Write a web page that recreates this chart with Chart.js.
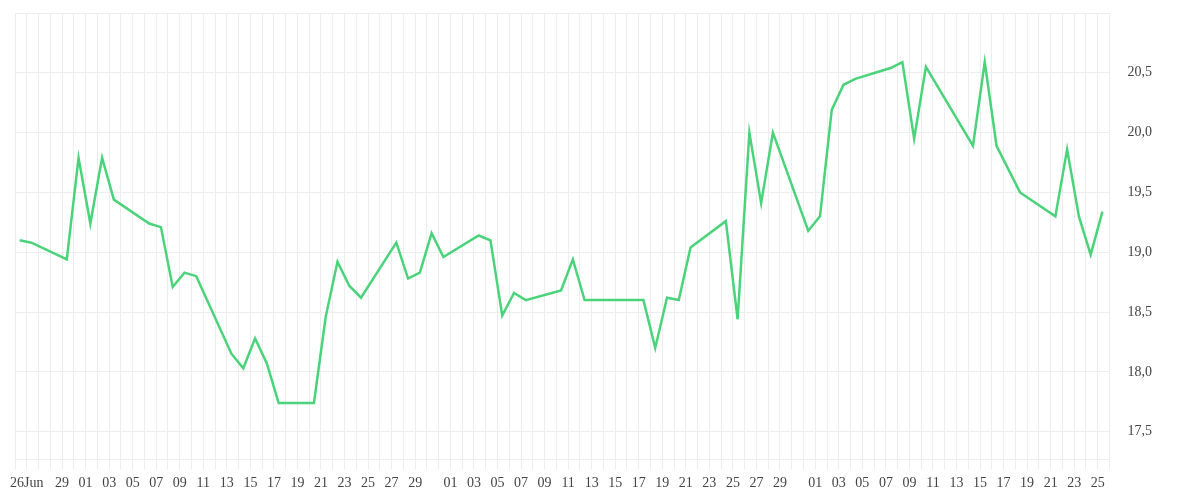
<!DOCTYPE html>
<html>
<head>
<meta charset="utf-8">
<script src="https://cdn.jsdelivr.net/npm/chart.js@4.4.0/dist/chart.umd.min.js"></script>
<style>
  html, body { margin: 0; padding: 0; background: #fff; }
  #wrap { width: 1200px; height: 500px; position: relative; }
</style>
</head>
<body>
<div id="wrap"><canvas id="chart"></canvas></div>
<script>
// axis starts at midnight of this day, one gridline per day
const startDate = '2023-06-25';
const axisDays = 93;
// readings are taken mid-morning, so each point sits a bit past its day line
const readingHour = 9.6;

const dates = [
  '2023-06-25', '2023-06-26', '2023-06-29', '2023-06-30', '2023-07-01', '2023-07-02', '2023-07-03',
  '2023-07-06', '2023-07-07', '2023-07-08', '2023-07-09', '2023-07-10', '2023-07-13', '2023-07-14',
  '2023-07-15', '2023-07-16', '2023-07-17', '2023-07-20', '2023-07-21', '2023-07-22', '2023-07-23',
  '2023-07-24', '2023-07-27', '2023-07-28', '2023-07-29', '2023-07-30', '2023-07-31', '2023-08-03',
  '2023-08-04', '2023-08-05', '2023-08-06', '2023-08-07', '2023-08-10', '2023-08-11', '2023-08-12',
  '2023-08-17', '2023-08-18', '2023-08-19', '2023-08-20', '2023-08-21', '2023-08-24', '2023-08-25',
  '2023-08-26', '2023-08-27', '2023-08-28', '2023-08-31', '2023-09-01', '2023-09-02', '2023-09-03',
  '2023-09-04', '2023-09-07', '2023-09-08', '2023-09-09', '2023-09-10', '2023-09-14', '2023-09-15',
  '2023-09-16', '2023-09-18', '2023-09-21', '2023-09-22', '2023-09-23', '2023-09-24', '2023-09-25'
];

const values = [
  19.10, 19.08, 18.94, 19.79, 19.24, 19.79, 19.44,
  19.24, 19.21, 18.71, 18.83, 18.80, 18.15, 18.03,
  18.28, 18.07, 17.74, 17.74, 18.46, 18.92, 18.72,
  18.62, 19.08, 18.78, 18.83, 19.16, 18.96, 19.14,
  19.10, 18.47, 18.66, 18.60, 18.68, 18.94, 18.60,
  18.60, 18.20, 18.62, 18.60, 19.04, 19.26, 18.44,
  20.00, 19.41, 20.00, 19.18, 19.30, 20.19, 20.40,
  20.45, 20.54, 20.59, 19.95, 20.55, 19.89, 20.59,
  19.89, 19.50, 19.30, 19.86, 19.30, 18.98, 19.34
];

// which day lines get a label (days counted from startDate)
const tickDays = [
  1, 4,
  6, 8, 10, 12, 14, 16, 18, 20, 22, 24, 26, 28, 30, 32, 34,
  37, 39, 41, 43, 45, 47, 49, 51, 53, 55, 57, 59, 61, 63, 65,
  68, 70, 72, 74, 76, 78, 80, 82, 84, 86, 88, 90, 92
];
const tickLabels = [
  '26Jun', '29',
  '01', '03', '05', '07', '09', '11', '13', '15', '17', '19', '21', '23', '25', '27', '29',
  '01', '03', '05', '07', '09', '11', '13', '15', '17', '19', '21', '23', '25', '27', '29',
  '01', '03', '05', '07', '09', '11', '13', '15', '17', '19', '21', '23', '25'
];

const DAY_MS = 86400000;
const t0 = Date.parse(startDate);
const points = dates.map((d, i) => ({
  x: (Date.parse(d) - t0) / DAY_MS + readingHour / 24,
  y: values[i]
}));

const gridColor = '#ededed';
const tickFont = { family: '"Liberation Serif", "Times New Roman", serif', size: 14 };

new Chart(document.getElementById('chart'), {
  type: 'line',
  data: {
    datasets: [{
      data: points,
      borderColor: '#4bd37b',
      borderWidth: 2.5,
      pointRadius: 0,
      tension: 0,
      fill: false
    }]
  },
  options: {
    responsive: true,
    maintainAspectRatio: false,
    animation: false,
    layout: { padding: { left: 15, top: 13, right: 30, bottom: 2 } },
    plugins: {
      legend: { display: false },
      tooltip: { enabled: false }
    },
    scales: {
      x: {
        type: 'linear',
        min: 0,
        max: axisDays,
        grid: { color: gridColor, tickLength: 10 },
        border: { color: gridColor },
        ticks: {
          stepSize: 1,
          maxTicksLimit: 200,
          autoSkip: false,
          maxRotation: 0,
          padding: 6,
          color: '#444',
          font: tickFont,
          callback: function(value) {
            const i = tickDays.indexOf(value);
            return i >= 0 ? tickLabels[i] : '';
          }
        }
      },
      y: {
        position: 'right',
        min: 17.27,
        max: 21,
        grid: { color: gridColor, drawTicks: false },
        border: { color: gridColor },
        // the wide label gap should not push the plot down from the top
        afterFit: function(scale) {
          scale.paddingTop = 0;
          scale.paddingBottom = 0;
        },
        ticks: {
          stepSize: 0.5,
          includeBounds: false,
          padding: 18,
          color: '#444',
          font: tickFont,
          callback: function(value) {
            if (value >= 21) return '';
            return value.toFixed(1).replace('.', ',');
          }
        }
      }
    }
  }
});
</script>
</body>
</html>
